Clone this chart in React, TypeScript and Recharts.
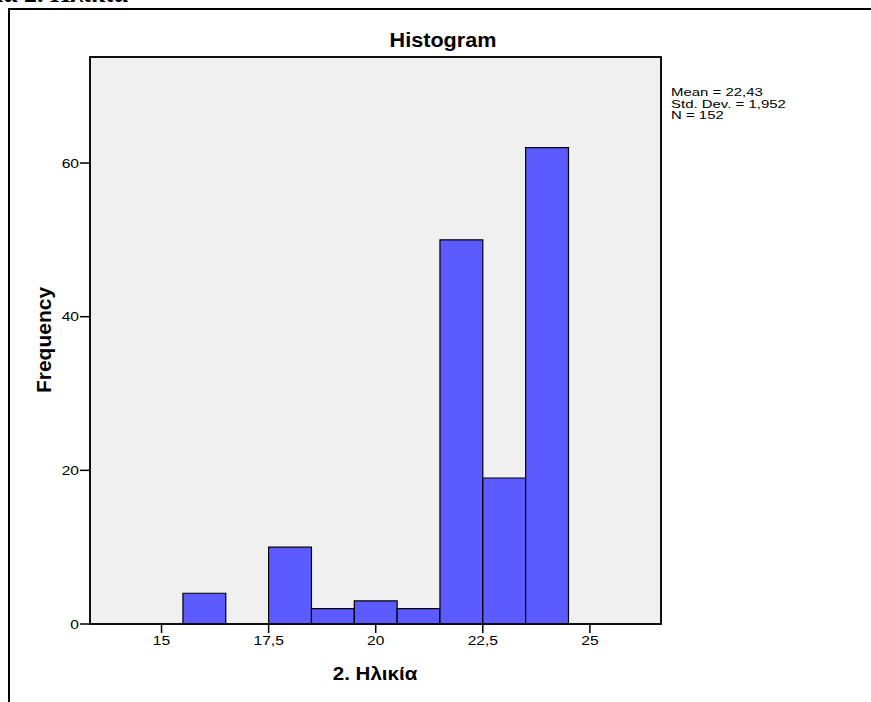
import React from "react";
import { ComposedChart, XAxis, YAxis, ReferenceArea } from "recharts";

// histogram bins of age (bin width 1)
const binStarts = [15.5, 16.5, 17.5, 18.5, 19.5, 20.5, 21.5, 22.5, 23.5];
const binEnds = [16.5, 17.5, 18.5, 19.5, 20.5, 21.5, 22.5, 23.5, 24.5];
const frequencies = [4, 0, 10, 2, 3, 2, 50, 19, 62];

const xTicks = [15, 17.5, 20, 22.5, 25];
const yTicks = [0, 20, 40, 60];
const statLines = ["Mean = 22,43", "Std. Dev. = 1,952", "N = 152"];

const X_DOMAIN: [number, number] = [13.33, 26.66];
const Y_DOMAIN: [number, number] = [0, 73.8];

const FONT = "'Liberation Sans', Arial, sans-serif";
const BAR_FILL = "#5b5bff";
const STRETCH = 1.2;

const fmt = (v: number) => String(v).replace(".", ",");

const XTick = (props: any) => {
  const { x, y, payload } = props;
  return (
    <g transform={`translate(${x},${y})`}>
      <text
        x={0}
        y={0}
        dy="0.72em"
        textAnchor="middle"
        fontFamily={FONT}
        fontSize={13}
        fill="#000"
        transform={`scale(${STRETCH},1)`}
      >
        {fmt(payload.value)}
      </text>
    </g>
  );
};

const YTick = (props: any) => {
  const { x, y, payload } = props;
  return (
    <g transform={`translate(${x},${y})`}>
      <text
        x={0}
        y={0}
        dy="0.36em"
        textAnchor="end"
        fontFamily={FONT}
        fontSize={13}
        fill="#000"
        transform={`scale(${STRETCH},1)`}
      >
        {fmt(payload.value)}
      </text>
    </g>
  );
};

export default function App() {
  const data = binStarts.map((s, i) => ({
    mid: (s + binEnds[i]) / 2,
    count: frequencies[i],
  }));

  return (
    <div
      style={{
        position: "absolute",
        left: 0,
        top: 0,
        width: 871,
        height: 702,
        overflow: "hidden",
        background: "#fff",
      }}
    >
      {/* clipped caption from the page above */}
      <div
        style={{
          position: "absolute",
          right: 743,
          top: -19,
          whiteSpace: "nowrap",
          fontFamily: "'Liberation Serif', serif",
          fontWeight: "bold",
          fontSize: 26,
          lineHeight: "26px",
        }}
      >
        Γράφημα 2. Ηλικία
      </div>

      {/* outer frame */}
      <div style={{ position: "absolute", left: 8, top: 8, width: 863, height: 2, background: "#000" }} />
      <div style={{ position: "absolute", left: 8, top: 8, width: 2, height: 694, background: "#000" }} />

      <div style={{ position: "absolute", left: 0, top: 0 }}>
        <ComposedChart
          width={871}
          height={702}
          data={data}
          margin={{ top: 57, right: 210, bottom: 48, left: 50 }}
        >
          <XAxis
            dataKey="mid"
            type="number"
            domain={X_DOMAIN}
            allowDataOverflow
            ticks={xTicks}
            interval={0}
            axisLine={false}
            tickSize={9}
            tickMargin={3}
            tickLine={{ stroke: "#000", strokeWidth: 1.5 }}
            tick={<XTick />}
            height={30}
          />
          <YAxis
            type="number"
            domain={Y_DOMAIN}
            allowDataOverflow
            ticks={yTicks}
            interval={0}
            axisLine={false}
            tickSize={10}
            tickMargin={1}
            tickLine={{ stroke: "#000", strokeWidth: 1.5 }}
            tick={<YTick />}
            width={40}
          />
          <ReferenceArea
            x1={X_DOMAIN[0]}
            x2={X_DOMAIN[1]}
            y1={Y_DOMAIN[0]}
            y2={Y_DOMAIN[1]}
            fill="#f0f0f0"
            fillOpacity={1}
            stroke="#000"
            strokeWidth={1.5}
          />
          {binStarts.map((s, i) =>
            frequencies[i] > 0 ? (
              <ReferenceArea
                key={s}
                x1={s}
                x2={binEnds[i]}
                y1={0}
                y2={frequencies[i]}
                fill={BAR_FILL}
                fillOpacity={1}
                stroke="#000"
                strokeWidth={1.2}
              />
            ) : null
          )}
          <ReferenceArea
            x1={X_DOMAIN[0]}
            x2={X_DOMAIN[1]}
            y1={Y_DOMAIN[0]}
            y2={Y_DOMAIN[1]}
            fill="none"
            stroke="#000"
            strokeWidth={1.5}
          />
        </ComposedChart>
      </div>

      {/* title, centred on the whole chart incl. the statistics panel */}
      <div
        style={{
          position: "absolute",
          left: 443,
          top: 30,
          transform: "translateX(-50%) scaleX(1.08)",
          fontFamily: FONT,
          fontWeight: "bold",
          fontSize: 20,
          lineHeight: "20px",
          whiteSpace: "nowrap",
        }}
      >
        Histogram
      </div>

      {/* x axis title */}
      <div
        style={{
          position: "absolute",
          left: 375,
          top: 664,
          transform: "translateX(-50%) scaleX(1.08)",
          fontFamily: FONT,
          fontWeight: "bold",
          fontSize: 19,
          lineHeight: "20px",
          whiteSpace: "nowrap",
        }}
      >
        2. Ηλικία
      </div>

      {/* y axis title */}
      <div
        style={{
          position: "absolute",
          left: 43,
          top: 340,
          transform: "translate(-50%, -50%) rotate(-90deg)",
          fontFamily: FONT,
          fontWeight: "bold",
          fontSize: 21,
          lineHeight: "21px",
          whiteSpace: "nowrap",
        }}
      >
        Frequency
      </div>

      {/* summary statistics */}
      <div
        style={{
          position: "absolute",
          left: 671,
          top: 87,
          transform: "scaleX(1.3)",
          transformOrigin: "0 0",
          fontFamily: FONT,
          fontSize: 11.5,
          lineHeight: "11.7px",
          whiteSpace: "nowrap",
        }}
      >
        {statLines.map((l) => (
          <div key={l}>{l}</div>
        ))}
      </div>
    </div>
  );
}
